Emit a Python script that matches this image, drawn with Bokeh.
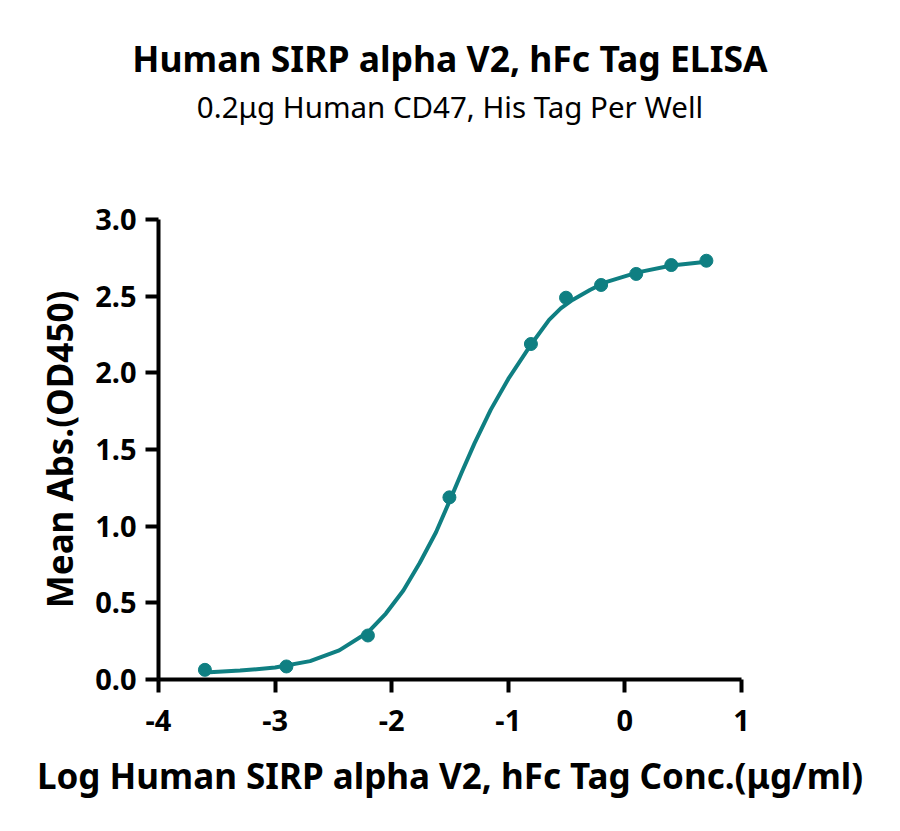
from bokeh.plotting import figure
from bokeh.models import Range1d, FixedTicker, NumeralTickFormatter, Title
from bokeh.embed import file_html
from bokeh.resources import INLINE

# measured points (log10 concentration, mean absorbance)
log_conc = [-3.602, -2.903, -2.204, -1.505, -0.806, -0.505, -0.204, 0.097, 0.398, 0.699]
mean_abs = [0.063, 0.085, 0.287, 1.188, 2.188, 2.490, 2.573, 2.645, 2.703, 2.731]

# fitted curve
fit_x = [-3.6, -3.3, -3.0, -2.7, -2.45, -2.2, -2.05, -1.9, -1.76, -1.62, -1.5, -1.4,
         -1.29, -1.15, -1.0, -0.8, -0.65, -0.55, -0.45, -0.3, -0.17, 0.11, 0.4, 0.7]
fit_y = [0.045, 0.058, 0.078, 0.12, 0.19, 0.31, 0.43, 0.58, 0.76, 0.96, 1.17, 1.35,
         1.54, 1.76, 1.96, 2.19, 2.345, 2.42, 2.475, 2.54, 2.59, 2.655, 2.70, 2.725]

x_ticks = [-4, -3, -2, -1, 0, 1]
y_ticks = [0.0, 0.5, 1.0, 1.5, 2.0, 2.5, 3.0]

title_text = "Human SIRP alpha V2, hFc Tag ELISA"
subtitle_text = "0.2\u03bcg Human CD47, His Tag Per Well"
x_label = "Log Human SIRP alpha V2, hFc Tag Conc.(\u03bcg/ml)"
y_label = "Mean Abs.(OD450)"

FONT = "Noto Sans"
TEAL = "#0f7f82"

p = figure(width=884, height=815, output_backend="svg", toolbar_location=None,
           x_range=Range1d(-4, 1), y_range=Range1d(0, 3),
           min_border_left=158, min_border_right=143,
           min_border_top=219, min_border_bottom=136,
           title=None)
p.outline_line_color = None
p.grid.visible = False
p.background_fill_color = "white"
p.border_fill_color = "white"

p.line(fit_x, fit_y, line_color=TEAL, line_width=4, line_join="round", line_cap="round")
p.scatter(log_conc, mean_abs, size=13, fill_color=TEAL, line_color=TEAL)

for ax in (p.xaxis[0], p.yaxis[0]):
    ax.axis_line_width = 4
    ax.axis_line_color = "black"
    ax.major_tick_line_width = 4
    ax.major_tick_line_color = "black"
    ax.major_tick_in = 0
    ax.major_tick_out = 13
    ax.minor_tick_line_color = None
    ax.major_label_text_font = FONT
    ax.major_label_text_font_style = "bold"
    ax.major_label_text_font_size = "29px"
    ax.major_label_text_color = "black"
    ax.axis_label_text_font = FONT
    ax.axis_label_text_font_style = "bold"
    ax.axis_label_text_color = "black"
    ax.axis_label_text_font_size = "35px"

p.xaxis[0].ticker = FixedTicker(ticks=x_ticks)
p.xaxis[0].major_label_overrides = {t: str(t) for t in x_ticks}
p.yaxis[0].ticker = FixedTicker(ticks=y_ticks)
p.yaxis[0].formatter = NumeralTickFormatter(format="0.0")
p.xaxis[0].major_label_standoff = 17
p.yaxis[0].major_label_standoff = 9
p.xaxis[0].axis_label = x_label
p.yaxis[0].axis_label = y_label
p.xaxis[0].axis_label_standoff = 18
p.yaxis[0].axis_label_standoff = 9

spacer = Title(text=" ", align="center", text_font=FONT, text_font_size="58px",
               text_color="white")
sub = Title(text=subtitle_text, align="center", text_font=FONT, text_font_style="normal",
            text_font_size="29.5px", text_color="black")
main = Title(text=title_text, align="center", text_font=FONT, text_font_style="bold",
             text_font_size="35.5px", text_color="black")
for t, s in ((sub, 4), (main, 0)):
    try:
        t.standoff = s
    except AttributeError:
        pass
p.add_layout(spacer, "above")
p.add_layout(sub, "above")
p.add_layout(main, "above")

open("out.html", "w").write(file_html(p, INLINE))
